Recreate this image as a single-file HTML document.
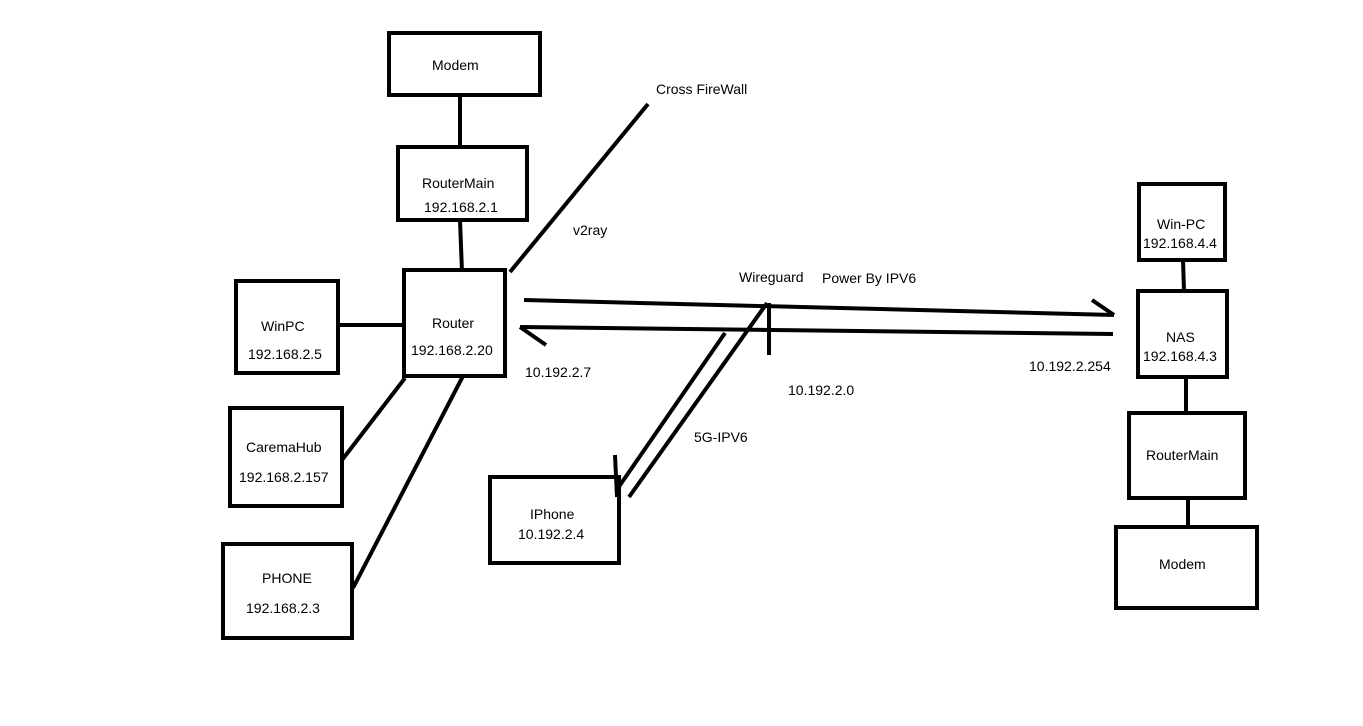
<!DOCTYPE html>
<html><head><style>
body{margin:0;background:#fff;}
svg text{font-family:"Liberation Sans",sans-serif;font-size:14px;fill:#000;}
</style></head><body>
<svg width="1363" height="721" viewBox="0 0 1363 721" xmlns="http://www.w3.org/2000/svg">
<g fill="none" stroke="#000" stroke-width="4">
<rect x="389" y="33" width="151" height="62"/>
<rect x="398" y="147" width="129" height="73"/>
<rect x="404" y="270" width="101" height="106"/>
<rect x="236" y="281" width="102" height="92"/>
<rect x="230" y="408" width="112" height="98"/>
<rect x="223" y="544" width="129" height="94"/>
<rect x="490" y="477" width="129" height="86"/>
<rect x="1139" y="184" width="86" height="76"/>
<rect x="1138" y="291" width="89" height="86"/>
<rect x="1129" y="413" width="116" height="85"/>
<rect x="1116" y="527" width="141" height="81"/>
<line x1="460" y1="95" x2="460" y2="147"/>
<line x1="460" y1="220" x2="462" y2="272"/>
<line x1="510" y1="272" x2="648" y2="104"/>
<line x1="338" y1="325" x2="404" y2="325"/>
<line x1="405" y1="378" x2="342" y2="460"/>
<line x1="463" y1="376" x2="353" y2="588"/>
<line x1="524" y1="300" x2="1114" y2="315"/>
<line x1="1092" y1="300" x2="1114" y2="315"/>
<line x1="1113" y1="334" x2="520" y2="327"/>
<line x1="520" y1="327" x2="546" y2="345"/>
<line x1="769" y1="303" x2="769" y2="355"/>
<line x1="767" y1="303" x2="629" y2="497"/>
<line x1="725" y1="333" x2="618" y2="488"/>
<line x1="615" y1="455" x2="617" y2="497"/>
<line x1="1183" y1="260" x2="1184" y2="291"/>
<line x1="1186" y1="377" x2="1186" y2="413"/>
<line x1="1188" y1="498" x2="1188" y2="527"/>
</g>
<text x="432" y="70">Modem</text>
<text x="422" y="188">RouterMain</text>
<text x="424" y="212">192.168.2.1</text>
<text x="432" y="328">Router</text>
<text x="411" y="355">192.168.2.20</text>
<text x="261" y="331">WinPC</text>
<text x="248" y="359">192.168.2.5</text>
<text x="246" y="452">CaremaHub</text>
<text x="239" y="482">192.168.2.157</text>
<text x="262" y="583">PHONE</text>
<text x="246" y="613">192.168.2.3</text>
<text x="530" y="519">IPhone</text>
<text x="518" y="539">10.192.2.4</text>
<text x="656" y="94">Cross FireWall</text>
<text x="573" y="235">v2ray</text>
<text x="739" y="282">Wireguard</text>
<text x="822" y="283">Power By IPV6</text>
<text x="525" y="377">10.192.2.7</text>
<text x="788" y="395">10.192.2.0</text>
<text x="694" y="442">5G-IPV6</text>
<text x="1029" y="371">10.192.2.254</text>
<text x="1157" y="229">Win-PC</text>
<text x="1143" y="248">192.168.4.4</text>
<text x="1166" y="342">NAS</text>
<text x="1143" y="361">192.168.4.3</text>
<text x="1146" y="460">RouterMain</text>
<text x="1159" y="569">Modem</text>
</svg>
</body></html>
